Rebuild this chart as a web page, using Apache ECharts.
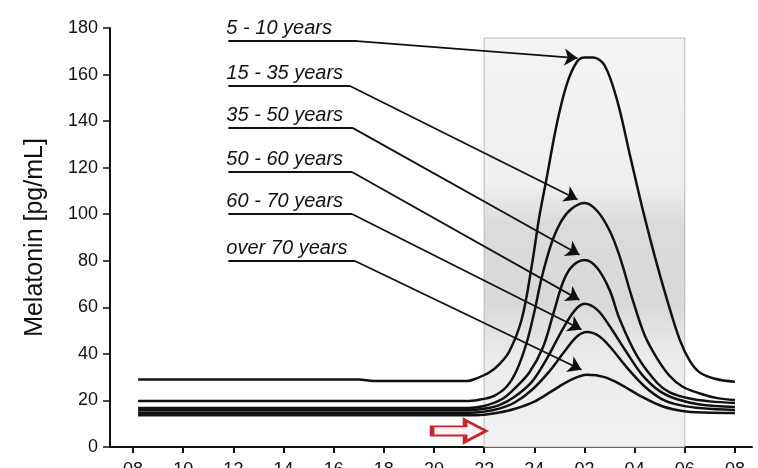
<!DOCTYPE html>
<html>
<head>
<meta charset="utf-8">
<script src="https://cdn.jsdelivr.net/npm/echarts@6/dist/echarts.min.js"></script>
<style>
html,body{margin:0;padding:0;background:#fff;}
#chart{width:758px;height:468px;}
</style>
</head>
<body>
<div id="chart"></div>
<script>
// hours since 08:00 on x; melatonin pg/mL on y
const tickHours = [0,2,4,6,8,10,12,14,16,18,20,22,24];
const tickLabels = ['08','10','12','14','16','18','20','22','24','02','04','06','08'];
const groupNames = ['5 - 10 years','15 - 35 years','35 - 50 years','50 - 60 years','60 - 70 years','over 70 years'];

const age5to10 = [[0.2,29],[9.0,29],[9.6,28.3],[13.3,28.3],[13.7,29.5],[14.2,32],[14.6,35.5],[15.0,41],[15.5,55],[15.9,78],[16.2,99],[16.5,116],[16.9,139],[17.3,156],[17.7,165.5],[18.0,167.3],[18.35,167.3],[18.8,164],[19.3,149],[19.8,126],[20.3,103],[20.8,82],[21.3,63],[21.8,46],[22.2,37],[22.6,32],[23.2,29.3],[24.0,28]];
const age15to35 = [[0.2,19.8],[13.4,19.8],[13.9,20.5],[14.4,22],[14.9,26],[15.3,33],[15.7,45],[16.0,58],[16.3,73],[16.7,88],[17.1,97.5],[17.5,102.5],[18.0,104.8],[18.5,101.5],[19.0,93],[19.4,82],[19.9,64],[20.4,48],[20.9,38],[21.4,30.5],[21.9,26],[22.6,23],[23.3,21],[24.0,20.2]];
const age35to50 = [[0.2,16.8],[13.4,16.8],[14.0,17.6],[14.7,20.5],[15.2,25],[15.8,32],[16.35,43],[16.75,57],[17.15,71],[17.5,77.5],[18.0,80.3],[18.5,77],[19.0,67.5],[19.4,55],[20.1,39],[20.9,27.5],[21.4,23.5],[22.2,20.8],[23.0,19.6],[24.0,18.9]];
const age50to60 = [[0.2,15.8],[13.4,15.8],[14.0,16.4],[14.6,18],[15.2,21.5],[15.9,28],[16.5,38],[17.1,50],[17.6,58.5],[18.0,61.5],[18.5,59],[19.0,52],[19.6,42],[20.3,31],[21.0,24],[21.7,20.5],[22.6,18.3],[24.0,17.2]];
const age60to70 = [[0.2,14.7],[13.4,14.7],[14.0,15.2],[14.6,16.5],[15.2,19],[15.9,24.5],[16.6,32.5],[17.2,41],[17.7,47.5],[18.1,49.4],[18.6,47.5],[19.1,42],[19.7,34],[20.4,26],[21.1,20.5],[21.8,18],[22.7,16.6],[24.0,15.9]];
const over70 = [[0.2,13.6],[13.4,13.6],[14.0,13.9],[14.6,14.8],[15.2,16.3],[16.0,19.5],[16.7,24],[17.4,28.5],[18.1,31],[18.8,30],[19.5,26.5],[20.3,21.5],[21.1,17.5],[21.9,15.5],[22.8,14.8],[24.0,14.6]];
const curves = [age5to10, age15to35, age35to50, age50to60, age60to70, over70];

// annotation anchors (data coords): underline start x, underline y, underline end x, arrow tip [x,y]
const labelStartX = 3.8;
const underlineY = [174.4,155.1,137,118.1,100.1,79.9];
const underlineEndX = [8.93,8.65,8.77,8.73,8.73,8.85];
const arrowTips = [[17.72,167.1],[17.72,106.3],[17.8,82.6],[17.8,63.2],[17.88,50.5],[17.88,33.2]];

// dark phase (lights off 22:00 to 06:00)
const darkStart = 14, darkEnd = 22, darkTop = 175.7;
const lightsOffArrow = [13.0, 6.9];

const ink = '#111';
const chart = echarts.init(document.getElementById('chart'), null, {renderer:'canvas'});

const series = curves.map((d, i) => ({
  type: 'line',
  name: groupNames[i],
  data: d,
  smooth: 0.35,
  symbol: 'none',
  lineStyle: {color: ink, width: 2.5},
  z: 5,
  markLine: {
    silent: true,
    animation: false,
    symbol: ['none','none'],
    lineStyle: {color: ink, width: 1.8, type: 'solid'},
    data: [
      [
        {coord: [labelStartX, underlineY[i]], symbol: 'none',
         label: {show: true, position: 'insideStartTop', formatter: groupNames[i], color: ink,
                 fontSize: 20, fontStyle: 'italic', fontFamily: 'Liberation Sans', distance: [-2, 3]}},
        {coord: [underlineEndX[i], underlineY[i]], symbol: 'none'}
      ],
      [
        {coord: [underlineEndX[i], underlineY[i]], symbol: 'none', label: {show: false}},
        {coord: arrowTips[i], symbol: 'arrow', symbolSize: 13}
      ]
    ]
  }
}));

series.push({
  type: 'line',
  data: [],
  z: 1,
  markArea: {
    silent: true,
    itemStyle: {
      borderColor: '#b8b8b8', borderWidth: 1,
      color: {type:'linear', x:0, y:0, x2:0, y2:1, colorStops:[
        {offset:0, color:'#f4f4f4'},
        {offset:0.36, color:'#efefef'},
        {offset:0.45, color:'#dbdbdb'},
        {offset:0.65, color:'#d9d9d9'},
        {offset:0.78, color:'#ebebeb'},
        {offset:1, color:'#f2f2f2'}
      ]}
    },
    data: [[{coord:[darkStart, 0]}, {coord:[darkEnd, darkTop]}]]
  },
  markPoint: {
    silent: true,
    symbol: 'path://M0,7 L33,7 L33,0 L54,12 L33,24 L33,17 L0,17 Z',
    symbolSize: [54, 22],
    itemStyle: {color: '#fdf3f3', borderColor: '#c4262e', borderWidth: 3},
    label: {show: false},
    data: [{coord: lightsOffArrow}]
  }
});

chart.setOption({
  animation: false,
  backgroundColor: '#fff',
  textStyle: {fontFamily: 'Liberation Sans'},
  grid: {left: 110, right: 6, top: 28, bottom: 21, containLabel: false, outerBoundsMode: 'none'},
  xAxis: {
    type: 'value', min: -0.92, max: 24.68,
    axisLine: {show: true, onZero: false, lineStyle: {color: ink, width: 2}},
    axisTick: {show: true, customValues: tickHours, length: 6, lineStyle: {color: ink, width: 2}},
    axisLabel: {show: true, customValues: tickHours, margin: 14, fontSize: 18, color: ink,
                formatter: v => tickLabels[tickHours.indexOf(v)]},
    splitLine: {show: false}
  },
  yAxis: {
    type: 'value', min: 0, max: 180, interval: 20,
    name: 'Melatonin [pg/mL]', nameLocation: 'middle', nameGap: 62,
    nameTextStyle: {fontSize: 25, color: ink, fontFamily: 'Liberation Sans'},
    axisLine: {show: true, onZero: false, lineStyle: {color: ink, width: 2}},
    axisTick: {show: true, length: 7, lineStyle: {color: ink, width: 1.5}},
    axisLabel: {fontSize: 18, color: ink, margin: 12},
    splitLine: {show: false}
  },
  series: series
});
</script>
</body>
</html>
